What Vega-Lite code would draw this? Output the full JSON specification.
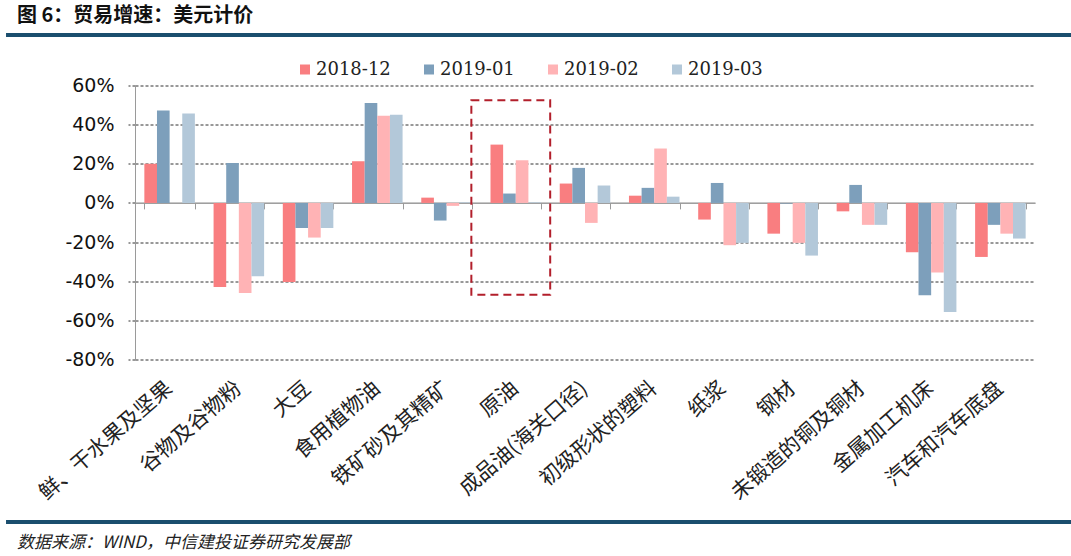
{
  "$schema": "https://vega.github.io/schema/vega-lite/v6.json",
  "background": "white",
  "padding": {"left": 4, "top": 5, "right": 0, "bottom": 6},
  "spacing": 16.5,
  "config": {"view": {"stroke": null}},
  "resolve": {"scale": {"x": "independent", "y": "independent", "color": "independent"}},
  "datasets": {
    "trade": [
      {"item": "鲜、干水果及坚果", "month": "2018-12", "value": 20.0},
      {"item": "鲜、干水果及坚果", "month": "2019-01", "value": 47.2},
      {"item": "鲜、干水果及坚果", "month": "2019-02", "value": null},
      {"item": "鲜、干水果及坚果", "month": "2019-03", "value": 45.7},
      {"item": "谷物及谷物粉", "month": "2018-12", "value": -42.9},
      {"item": "谷物及谷物粉", "month": "2019-01", "value": 20.4},
      {"item": "谷物及谷物粉", "month": "2019-02", "value": -46.0},
      {"item": "谷物及谷物粉", "month": "2019-03", "value": -37.5},
      {"item": "大豆", "month": "2018-12", "value": -40.4},
      {"item": "大豆", "month": "2019-01", "value": -12.8},
      {"item": "大豆", "month": "2019-02", "value": -17.7},
      {"item": "大豆", "month": "2019-03", "value": -12.8},
      {"item": "食用植物油", "month": "2018-12", "value": 21.3},
      {"item": "食用植物油", "month": "2019-01", "value": 51.1},
      {"item": "食用植物油", "month": "2019-02", "value": 44.6},
      {"item": "食用植物油", "month": "2019-03", "value": 45.1},
      {"item": "铁矿砂及其精矿", "month": "2018-12", "value": 2.7},
      {"item": "铁矿砂及其精矿", "month": "2019-01", "value": -9.0},
      {"item": "铁矿砂及其精矿", "month": "2019-02", "value": -1.5},
      {"item": "铁矿砂及其精矿", "month": "2019-03", "value": 0.3},
      {"item": "原油", "month": "2018-12", "value": 29.8},
      {"item": "原油", "month": "2019-01", "value": 4.8},
      {"item": "原油", "month": "2019-02", "value": 21.8},
      {"item": "原油", "month": "2019-03", "value": 0.3},
      {"item": "成品油(海关口径)", "month": "2018-12", "value": 9.9},
      {"item": "成品油(海关口径)", "month": "2019-01", "value": 17.9},
      {"item": "成品油(海关口径)", "month": "2019-02", "value": -10.2},
      {"item": "成品油(海关口径)", "month": "2019-03", "value": 8.9},
      {"item": "初级形状的塑料", "month": "2018-12", "value": 3.7},
      {"item": "初级形状的塑料", "month": "2019-01", "value": 7.7},
      {"item": "初级形状的塑料", "month": "2019-02", "value": 27.8},
      {"item": "初级形状的塑料", "month": "2019-03", "value": 3.2},
      {"item": "纸浆", "month": "2018-12", "value": -8.5},
      {"item": "纸浆", "month": "2019-01", "value": 10.2},
      {"item": "纸浆", "month": "2019-02", "value": -21.6},
      {"item": "纸浆", "month": "2019-03", "value": -20.4},
      {"item": "钢材", "month": "2018-12", "value": -15.7},
      {"item": "钢材", "month": "2019-01", "value": -0.3},
      {"item": "钢材", "month": "2019-02", "value": -20.4},
      {"item": "钢材", "month": "2019-03", "value": -26.9},
      {"item": "未锻造的铜及铜材", "month": "2018-12", "value": -4.3},
      {"item": "未锻造的铜及铜材", "month": "2019-01", "value": 9.2},
      {"item": "未锻造的铜及铜材", "month": "2019-02", "value": -11.2},
      {"item": "未锻造的铜及铜材", "month": "2019-03", "value": -11.2},
      {"item": "金属加工机床", "month": "2018-12", "value": -25.2},
      {"item": "金属加工机床", "month": "2019-01", "value": -47.2},
      {"item": "金属加工机床", "month": "2019-02", "value": -35.6},
      {"item": "金属加工机床", "month": "2019-03", "value": -55.7},
      {"item": "汽车和汽车底盘", "month": "2018-12", "value": -27.6},
      {"item": "汽车和汽车底盘", "month": "2019-01", "value": -11.2},
      {"item": "汽车和汽车底盘", "month": "2019-02", "value": -15.7},
      {"item": "汽车和汽车底盘", "month": "2019-03", "value": -18.2}
    ],
    "box": [
      {"item": "原油", "top": 52.4, "bottom": -46.9}
    ],
    "rules": [
      {"name": "rule", "from": -0.1433, "to": 1.0422}
    ]
  },
  "vconcat": [
    {
      "width": 900,
      "height": 8.5,
      "title": {
        "text": "图 6：贸易增速：美元计价",
        "anchor": "start",
        "frame": "bounds",
        "font": "Noto Sans CJK SC",
        "fontSize": 20,
        "fontWeight": "bold",
        "color": "#111111",
        "offset": 7.5,
        "dx": 13
      },
      "data": {"name": "rules"},
      "mark": {"type": "rule", "strokeWidth": 4, "color": "#1A4E6E"},
      "encoding": {
        "x": {"field": "from", "type": "quantitative", "scale": {"domain": [0, 1], "nice": false, "zero": false}, "axis": null},
        "x2": {"field": "to"},
        "y": {"datum": 1, "type": "quantitative", "scale": {"domain": [0, 1], "nice": false}, "axis": null}
      }
    },
    {
      "width": 900,
      "height": 274,
      "layer": [
        {
          "data": {"name": "trade"},
          "mark": {"type": "bar"},
          "encoding": {
            "x": {
              "field": "item",
              "type": "nominal",
              "sort": ["鲜、干水果及坚果", "谷物及谷物粉", "大豆", "食用植物油", "铁矿砂及其精矿", "原油", "成品油(海关口径)", "初级形状的塑料", "纸浆", "钢材", "未锻造的铜及铜材", "金属加工机床", "汽车和汽车底盘"],
              "scale": {"paddingInner": 0.27, "paddingOuter": 0.135},
              "axis": {
                "orient": "bottom",
                "title": null,
                "domain": false,
                "ticks": false,
                "grid": false,
                "labelAngle": -41,
                "labelAlign": "right",
                "labelBaseline": "middle",
                "labelFont": "Noto Sans CJK SC",
                "labelFontSize": 21,
                "labelColor": "#222222",
                "labelPadding": 26,
                "labelLimit": 400,
                "labelOverlap": false,
                "labelFlush": false
              }
            },
            "xOffset": {
              "field": "month",
              "type": "nominal",
              "sort": ["2018-12", "2019-01", "2019-02", "2019-03"],
              "scale": {"paddingInner": 0, "paddingOuter": 0}
            },
            "y": {
              "field": "value",
              "type": "quantitative",
              "scale": {"domain": [-80, 60], "nice": false, "zero": false},
              "axis": {
                "title": null,
                "values": [-80, -60, -40, -20, 0, 20, 40, 60],
                "tickCount": 8,
                "labelOverlap": false,
                "labelExpr": "datum.value + '%'",
                "labelFont": "DejaVu Sans",
                "labelFontSize": 19,
                "labelColor": "#111111",
                "labelPadding": 14,
                "tickSize": 7,
                "tickColor": "#333333",
                "tickDash": [3, 2],
                "grid": true,
                "gridColor": {"condition": {"test": "datum.value === 0", "value": "#9a9a9a"}, "value": "#333333"},
                "gridDash": {"condition": {"test": "datum.value === 0", "value": []}, "value": [3, 2]},
                "gridWidth": 1,
                "domain": true,
                "domainColor": "#9a9a9a",
                "minExtent": 129
              }
            },
            "color": {
              "field": "month",
              "type": "nominal",
              "scale": {"domain": ["2018-12", "2019-01", "2019-02", "2019-03"], "range": ["#F97E80", "#7D9FBB", "#FFB3B5", "#B3C8D9"]},
              "legend": {
                "orient": "none",
                "legendX": 161,
                "legendY": -25,
                "direction": "horizontal",
                "title": null,
                "symbolType": "square",
                "symbolSize": 100,
                "symbolStrokeWidth": 0,
                "labelFont": "DejaVu Serif",
                "labelFontSize": 18,
                "labelColor": "#222222",
                "labelOffset": 2,
                "columnPadding": 29
              }
            }
          }
        },
        {
          "data": {"name": "box"},
          "mark": {"type": "bar", "fillOpacity": 0, "stroke": "#B21F2B", "strokeWidth": 2, "strokeDash": [8, 5], "width": {"band": 1.56}, "xOffset": -5},
          "encoding": {
            "x": {
              "field": "item",
              "type": "nominal",
              "sort": ["鲜、干水果及坚果", "谷物及谷物粉", "大豆", "食用植物油", "铁矿砂及其精矿", "原油", "成品油(海关口径)", "初级形状的塑料", "纸浆", "钢材", "未锻造的铜及铜材", "金属加工机床", "汽车和汽车底盘"],
              "axis": {
                "orient": "bottom",
                "offset": -156.6,
                "title": null,
                "labels": false,
                "grid": false,
                "domain": true,
                "domainColor": "#9a9a9a",
                "ticks": true,
                "tickBand": "extent",
                "tickColor": "#9a9a9a",
                "tickSize": 6
              }
            },
            "y": {"field": "top", "type": "quantitative"},
            "y2": {"field": "bottom"}
          }
        }
      ],
      "resolve": {"axis": {"x": "independent"}}
    },
    {
      "width": 900,
      "height": 4,
      "title": {
        "text": "数据来源：WIND，中信建投证券研究发展部",
        "orient": "bottom",
        "anchor": "start",
        "frame": "bounds",
        "font": "Noto Sans CJK SC",
        "fontSize": 17,
        "fontStyle": "italic",
        "fontWeight": "normal",
        "color": "#222222",
        "offset": 9,
        "dx": 13
      },
      "data": {"name": "rules"},
      "mark": {"type": "rule", "strokeWidth": 4, "color": "#1A4E6E"},
      "encoding": {
        "x": {"field": "from", "type": "quantitative", "scale": {"domain": [0, 1], "nice": false, "zero": false}, "axis": null},
        "x2": {"field": "to"},
        "y": {"datum": 1, "type": "quantitative", "scale": {"domain": [0, 1], "nice": false}, "axis": null}
      }
    }
  ]
}
